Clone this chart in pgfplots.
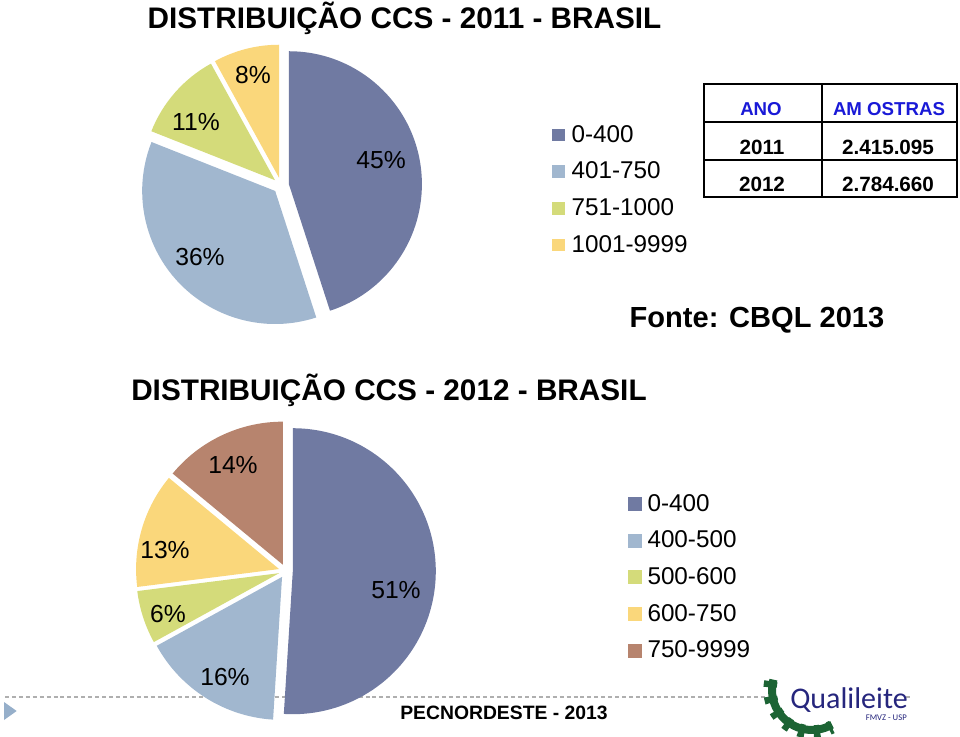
\documentclass[border=0pt]{standalone}
\usepackage{fontspec}
\setmainfont{Liberation Sans}
\newfontfamily\logofont{Carlito}
\usepackage{pgfplots}
\usepackage{pgfplotstable}
\pgfplotsset{compat=1.18}

\definecolor{cA}{RGB}{112,122,162}
\definecolor{cB}{RGB}{161,183,207}
\definecolor{cC}{RGB}{212,219,122}
\definecolor{cD}{RGB}{250,215,123}
\definecolor{cE}{RGB}{183,132,110}
\definecolor{tblue}{RGB}{25,25,215}
\definecolor{qnavy}{RGB}{38,38,125}
\definecolor{qgreen}{RGB}{28,100,52}
\definecolor{dashgray}{RGB}{175,175,175}
\definecolor{triblue}{RGB}{150,175,202}

\newcommand\pielbl{\fontsize{18.5}{20}\selectfont}
\newcommand\legfont{\fontsize{18.2}{20}\selectfont}
\newcommand\titlefont{\fontsize{22.3}{24}\selectfont\bfseries}

% slices clockwise from 12 o'clock; lx, ly = label centre (px)
\pgfplotstableread{
pct col lx ly
45 cA 381 160
36 cB 200 257
11 cC 196 122
8  cD 253 75
}\pieA
\pgfplotstableread{
pct col lx ly
51 cA 396 590
16 cB 225 677
6  cC 168 614
13 cD 165 550
14 cE 233 465
}\pieB

% #1 table, #2 cx, #3 cy (px), #4 radius (px), #5 explosion (px)
\newcommand\drawpie[5]{%
  \pgfplotstablegetrowsof{#1}%
  \pgfmathtruncatemacro\nrows{\pgfplotsretval-1}%
  \pgfmathsetmacro\rr{#4*0.75}%
  \def\cumang{90}%
  \pgfplotsforeachungrouped \i in {0,...,\nrows}{%
    \pgfplotstablegetelem{\i}{pct}\of{#1}\let\pct\pgfplotsretval
    \pgfplotstablegetelem{\i}{col}\of{#1}\let\col\pgfplotsretval
    \pgfplotstablegetelem{\i}{lx}\of{#1}\let\lx\pgfplotsretval
    \pgfplotstablegetelem{\i}{ly}\of{#1}\let\ly\pgfplotsretval
    \pgfmathsetmacro\angA{\cumang}%
    \pgfmathsetmacro\angB{\cumang-3.6*\pct}%
    \pgfmathsetmacro\angM{(\angA+\angB)/2}%
    \pgfmathsetmacro\sx{#2+#5*cos(\angM)}%
    \pgfmathsetmacro\sy{#3-#5*sin(\angM)}%
    \edef\doslice{%
      \noexpand\fill[\col] (axis cs:\sx,\sy) -- ++(\angA:\rr pt)
        arc[start angle=\angA, end angle=\angB, radius=\rr pt] -- cycle;
      \noexpand\node[font=\noexpand\pielbl] at (axis cs:\lx,\ly) {\pct\noexpand\%};}%
    \doslice
    \let\cumang\angB
  }%
}

\pgfplotsset{
  slide/.style={
    at={(0pt,0pt)}, anchor=south west,
    x=0.75pt, y=0.75pt,
    xmin=0, xmax=960, ymin=0, ymax=737,
    y dir=reverse,
    hide axis, clip=false,
    legend cell align=left,
  },
}

\begin{document}
\begin{tikzpicture}
\useasboundingbox (0,0) rectangle (720pt,552.75pt);

%% 2011
\begin{axis}[slide,
  legend image code/.code={\fill[#1] (0pt,-4.4pt) rectangle (8.8pt,4.4pt);},
  legend style={at={(axis description cs:0.5747,0.8304)}, anchor=north west,
    draw=none, fill=none, inner sep=0pt, font=\legfont,
    row sep=13.3pt, column sep=5.5pt, nodes={inner sep=0pt}},
]
\addlegendimage{cA}\addlegendentry{0-400}
\addlegendimage{cB}\addlegendentry{401-750}
\addlegendimage{cC}\addlegendentry{751-1000}
\addlegendimage{cD}\addlegendentry{1001-9999}

\drawpie{\pieA}{281}{185.5}{133}{8}

\node[font=\titlefont, anchor=base] at (axis cs:404.5,29) {DISTRIBUIÇÃO CCS - 2011 - BRASIL};
\node[font=\fontsize{21.8}{24}\selectfont\bfseries, anchor=base] at (axis cs:757,328) {Fonte: CBQL 2013};

% table of samples
\draw[line width=1pt] (axis cs:704,84) rectangle (axis cs:957,197);
\draw[line width=0.8pt] (axis cs:704,122) -- (axis cs:957,122);
\draw[line width=0.8pt] (axis cs:704,160) -- (axis cs:957,160);
\draw[line width=0.8pt] (axis cs:822,84) -- (axis cs:822,197);
\begin{scope}[every node/.style={font=\fontsize{14}{15}\selectfont\bfseries}]
\node[text=tblue] at (axis cs:761,109) {ANO};
\node[text=tblue] at (axis cs:889,109) {AM OSTRAS};
\end{scope}
\begin{scope}[every node/.style={font=\fontsize{15.5}{17}\selectfont\bfseries}]
\node at (axis cs:762,147) {2011};
\node at (axis cs:888,147) {2.415.095};
\node at (axis cs:762,184) {2012};
\node at (axis cs:888,184) {2.784.660};
\end{scope}
\end{axis}

%% 2012
\begin{axis}[slide,
  legend image code/.code={\fill[#1] (0pt,-4.9pt) rectangle (9.8pt,4.9pt);},
  legend style={at={(axis description cs:0.6542,0.3298)}, anchor=north west,
    draw=none, fill=none, inner sep=0pt, font=\legfont,
    row sep=13.3pt, column sep=4.2pt, nodes={inner sep=0pt}},
]
\addlegendimage{cA}\addlegendentry{0-400}
\addlegendimage{cB}\addlegendentry{400-500}
\addlegendimage{cC}\addlegendentry{500-600}
\addlegendimage{cD}\addlegendentry{600-750}
\addlegendimage{cE}\addlegendentry{750-9999}

% footer
\draw[dashgray, line width=0.8pt, dash pattern=on 3pt off 2.2pt] (axis cs:5,697) -- (axis cs:910,697);
\fill[triblue] (axis cs:4,702) -- (axis cs:4,720) -- (axis cs:16.7,711) -- cycle;

\drawpie{\pieB}{285.8}{571}{143}{7}

\node[font=\titlefont, anchor=base] at (axis cs:389,401) {DISTRIBUIÇÃO CCS - 2012 - BRASIL};
\node[font=\fontsize{14.5}{16}\selectfont\bfseries, anchor=base] at (axis cs:504,719) {PECNORDESTE - 2013};

% logo
\fill[white] (axis cs:766,672) rectangle (axis cs:906,737);
\draw[qgreen, line width=6pt] (axis cs:812,690) ++(165:30pt) arc[start angle=165, end angle=300, radius=30pt];
\draw[qgreen, line width=10pt, dash pattern=on 4.5pt off 7pt] (axis cs:812,690) ++(168:31.5pt) arc[start angle=168, end angle=298, radius=31.5pt];
\node[font=\logofont\fontsize{22.5}{24}\selectfont, text=qnavy, anchor=base west, inner sep=0pt] at (axis cs:790,708) {Qualileite};
\node[font=\logofont\fontsize{6.5}{7}\selectfont, text=qnavy, anchor=base east, inner sep=0pt] at (axis cs:907,720) {FMVZ - USP};
\end{axis}
\end{tikzpicture}
\end{document}
